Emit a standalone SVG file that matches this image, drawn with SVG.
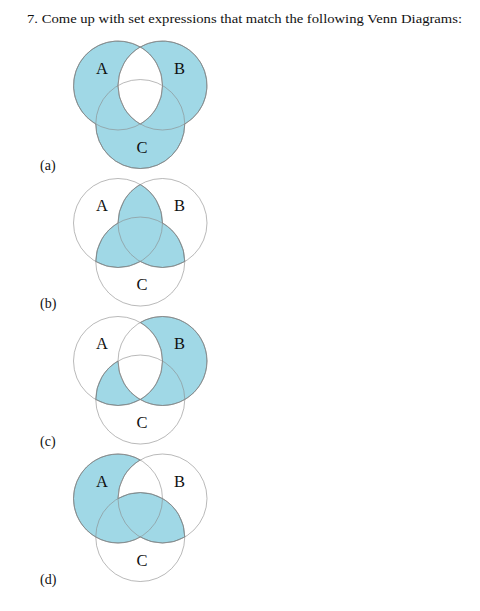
<svg xmlns="http://www.w3.org/2000/svg" width="480" height="611" viewBox="0 0 480 611">
<style>
.t{font-family:"Liberation Serif","DejaVu Serif",serif;fill:#111}
.lab{font-size:16.5px;text-anchor:middle}
.sub{font-size:14px}
.fill{fill:#a0d8e6;stroke:#555;stroke-width:0.6}
.circ{fill:none;stroke:#8a8a8a;stroke-width:0.6}
</style>
<defs>
<g id="circles">
<circle class="circ" cx="0" cy="0" r="44.5"/>
<circle class="circ" cx="44.5" cy="0" r="44.5"/>
<circle class="circ" cx="22.25" cy="38.54" r="44.5"/>
</g>
<g id="labels">
<text class="t lab" x="-16" y="-12">A</text>
<text class="t lab" x="61.5" y="-12">B</text>
<text class="t lab" x="24" y="67">C</text>
</g>
</defs>
<rect width="480" height="611" fill="#fff"/>
<text class="t" x="27" y="23" font-size="13" textLength="435" lengthAdjust="spacingAndGlyphs">7. Come up with set expressions that match the following Venn Diagrams:</text>

<g id="venn-a" transform="translate(118,85.5)">
<path class="fill" fill-rule="evenodd" d="M -22.25 38.54 A 44.5 44.5 0 0 1 -38.54 -22.25 A 44.5 44.5 0 0 1 22.25 -38.54 A 44.5 44.5 0 0 1 83.04 -22.25 A 44.5 44.5 0 0 1 66.75 38.54 A 44.5 44.5 0 0 1 22.25 83.04 A 44.5 44.5 0 0 1 -22.25 38.54 Z M 22.25 -38.54 A 44.5 44.5 0 0 1 22.25 38.54 A 44.5 44.5 0 0 1 22.25 -38.54 Z"/>
<use href="#circles"/>
<use href="#labels"/>
</g>

<g id="venn-b" transform="translate(118,223)">
<path class="fill" d="M 22.25 -38.54 A 44.5 44.5 0 0 1 44.5 0 A 44.5 44.5 0 0 1 66.75 38.54 A 44.5 44.5 0 0 1 22.25 38.54 A 44.5 44.5 0 0 1 -22.25 38.54 A 44.5 44.5 0 0 1 0 0 A 44.5 44.5 0 0 1 22.25 -38.54 Z"/>
<use href="#circles"/>
<use href="#labels"/>
</g>

<g id="venn-c" transform="translate(118,361)">
<path class="fill" d="M 22.25 -38.54 A 44.5 44.5 0 1 1 22.25 38.54 A 44.5 44.5 0 0 0 22.25 -38.54 Z M -22.25 38.54 A 44.5 44.5 0 0 1 0 0 A 44.5 44.5 0 0 0 22.25 38.54 A 44.5 44.5 0 0 1 -22.25 38.54 Z"/>
<use href="#circles"/>
<use href="#labels"/>
</g>

<g id="venn-d" transform="translate(118,498.5)">
<path class="fill" d="M 22.25 -38.54 A 44.5 44.5 0 1 0 22.25 38.54 A 44.5 44.5 0 0 0 66.75 38.54 A 44.5 44.5 0 0 0 0 0 A 44.5 44.5 0 0 1 22.25 -38.54 Z"/>
<use href="#circles"/>
<use href="#labels"/>
</g>

<g id="sublabels">
<text class="t sub" x="40" y="170">(a)</text>
<text class="t sub" x="40" y="308">(b)</text>
<text class="t sub" x="40" y="446">(c)</text>
<text class="t sub" x="40" y="584">(d)</text>
</g>
<g id="connectors"/>
</svg>
